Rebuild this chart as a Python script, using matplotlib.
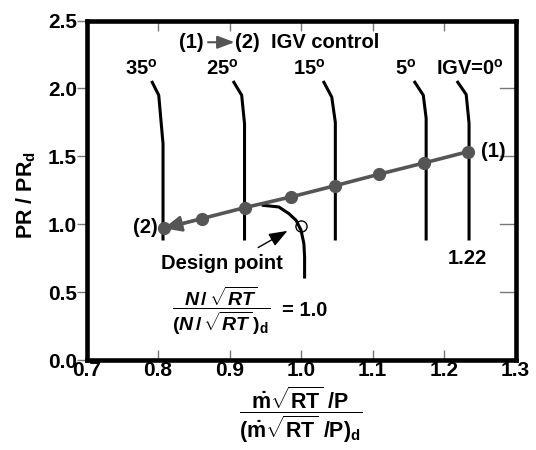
import matplotlib
matplotlib.use("Agg")
import matplotlib.pyplot as plt
import numpy as np

plt.rcParams['font.family'] = ['Liberation Sans', 'DejaVu Sans']
plt.rcParams['font.weight'] = 'bold'
plt.rcParams['mathtext.fontset'] = 'custom'
plt.rcParams['mathtext.rm'] = 'Liberation Sans:bold'
plt.rcParams['mathtext.bf'] = 'Liberation Sans:bold'
plt.rcParams['mathtext.it'] = 'Liberation Sans:italic:bold'
plt.rcParams['mathtext.sf'] = 'Liberation Sans'

# IGV speed lines (x = corrected flow ratio, y = PR / PR_d)
igv_labels = ['35$^{\\rm o}$', '25$^{\\rm o}$', '15$^{\\rm o}$', '5$^{\\rm o}$', 'IGV=0$^{\\rm o}$']
igv_label_x = [0.776, 0.890, 1.012, 1.147, 1.236]
igv_x = [
    [0.791, 0.801, 0.807, 0.807],
    [0.905, 0.917, 0.921, 0.921],
    [1.031, 1.043, 1.048, 1.048],
    [1.158, 1.171, 1.175, 1.175],
    [1.218, 1.231, 1.235, 1.235],
]
igv_y = [
    [2.055, 1.950, 1.593, 0.88],
    [2.055, 1.950, 1.740, 0.88],
    [2.055, 1.936, 1.750, 0.88],
    [2.055, 1.950, 1.780, 0.88],
    [2.055, 1.955, 1.743, 0.88],
]

# IGV control path (1) -> (2)
path_x = [1.234, 1.172, 1.109, 1.048, 0.986, 0.922, 0.862, 0.808]
path_y = [1.535, 1.451, 1.368, 1.284, 1.201, 1.123, 1.042, 0.970]

# design speed line N/sqrt(RT) = 1.0
design_x = [0.945, 0.969, 0.983, 0.993, 1.000, 1.004, 1.005, 1.005]
design_y = [1.140, 1.127, 1.078, 1.029, 0.956, 0.858, 0.760, 0.600]
design_pt = (1.0, 0.99)

fig = plt.figure(figsize=(5.36, 4.5), dpi=100)
ax = fig.add_axes([0.1614, 0.2, 0.8004, 0.7544])

for xs, ys in zip(igv_x, igv_y):
    ax.plot(xs, ys, color='black', lw=2.2, solid_capstyle='butt')
for lx, lab in zip(igv_label_x, igv_labels):
    ax.text(lx, 2.10, lab, ha='center', va='baseline', fontsize=14.5, fontweight='bold')

ax.plot(design_x, design_y, color='black', lw=2.2, solid_capstyle='butt')
ax.plot([design_pt[0]], [design_pt[1]], 'o', mfc='none', mec='black', ms=8, mew=1)

gray = '#555555'
ax.plot(path_x, path_y, color=gray, lw=2.6, zorder=3)
ax.annotate('', xy=(path_x[-1], path_y[-1]), xytext=(path_x[-2], path_y[-2]),
            arrowprops=dict(arrowstyle='-|>,head_length=0.9,head_width=0.4', color=gray,
                            lw=2.0, mutation_scale=12, shrinkA=0, shrinkB=0), zorder=3)
ax.plot(path_x, path_y, 'o', color=gray, ms=8.5, zorder=4, lw=0)

ax.text(1.269, 1.535, '(1)', ha='center', va='center', fontsize=14.5, fontweight='bold')
ax.text(0.800, 0.975, '(2)', ha='right', va='center', fontsize=14.5, fontweight='bold')
ax.text(1.233, 0.748, '1.22', ha='center', va='center', fontsize=14.5, fontweight='bold')

# path note
ax.text(0.846, 2.34, '(1)', ha='center', va='center', fontsize=14.5, fontweight='bold')
ax.annotate('', xy=(0.907, 2.34), xytext=(0.870, 2.34),
            arrowprops=dict(arrowstyle='-|>,head_length=0.8,head_width=0.3', color=gray,
                            lw=1.5, mutation_scale=13, shrinkA=0, shrinkB=0))
ax.text(0.907, 2.34, '(2)  IGV control', ha='left', va='center', fontsize=14.5, fontweight='bold')

# design point annotation
ax.annotate('', xy=(0.981, 0.951), xytext=(0.940, 0.828),
            arrowprops=dict(arrowstyle='-|>,head_length=0.8,head_width=0.3', color='black',
                            lw=1.0, mutation_scale=14, shrinkA=0, shrinkB=0))
ax.text(0.889, 0.714, 'Design point', ha='center', va='center', fontsize=14.5, fontweight='bold')
ax.text(0.889, 0.363, r'$\dfrac{N\,/\,\sqrt{RT}}{(N\,/\,\sqrt{RT}\,)_{\mathsf{d}}}$',
        ha='center', va='center', fontsize=14)
ax.text(1.005, 0.365, '= 1.0', ha='center', va='center', fontsize=14.5, fontweight='bold')

xticks = np.arange(0.7, 1.31, 0.1)
yticks = np.arange(0.0, 2.51, 0.5)
ax.set_xlim(0.7, 1.3)
ax.set_ylim(0.0, 2.5)
ax.set_xticks(xticks)
ax.set_yticks(yticks)
ax.set_xticklabels(['%.1f' % v for v in xticks])
ax.set_yticklabels(['%.1f' % v for v in yticks])
for lbl in ax.get_xticklabels() + ax.get_yticklabels():
    lbl.set_fontweight('bold')
    lbl.set_fontsize(15)
ax.tick_params(axis='x', which='both', direction='in', top=True, bottom=True,
               length=7, width=1, color='#777777', pad=1)
ax.tick_params(axis='y', which='both', direction='out', left=True, right=False,
               length=7, width=1, color='#777777', pad=0)
for yv in [0.5, 1.0, 1.5, 2.0]:
    ax.plot([1.3 - 0.022, 1.3], [yv, yv], color='#777777', lw=1, clip_on=False)
for s in ax.spines.values():
    s.set_linewidth(3.3)

fig.text(0.048, 0.567, 'PR / PR$_{\\rm d}$', rotation=90, ha='center', va='center',
         fontsize=15.5, fontweight='bold')
fig.text(0.5616, 0.078, r'$\dfrac{\dot{\mathsf{m}}\sqrt{\mathsf{RT}}\ \mathsf{/P}}{(\dot{\mathsf{m}}\sqrt{\mathsf{RT}}\ \mathsf{/P})_\mathsf{d}}$',
         ha='center', va='center', fontsize=15.5)

fig.savefig('out.png', dpi=100)
